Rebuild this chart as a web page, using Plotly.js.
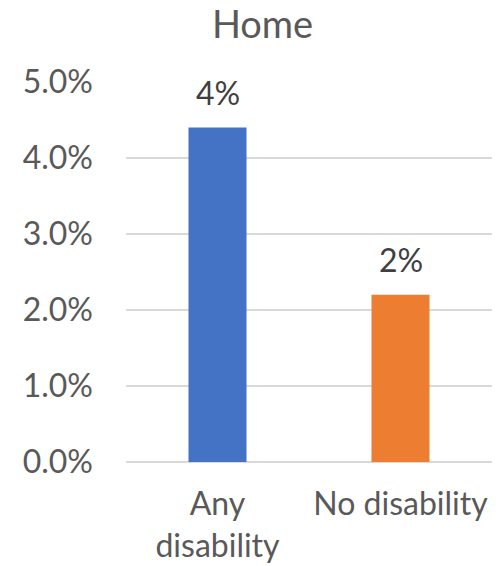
<!DOCTYPE html>
<html>
<head>
<meta charset="utf-8">
<script src="https://cdn.plot.ly/plotly-3.0.1.min.js"></script>
<style>html,body{margin:0;padding:0;background:#fff;}#chart{width:502px;height:566px;}</style>
</head>
<body>
<div id="chart"></div>
<script>
var categories = ["Any<br>disability", "No disability"];
var values = [0.044, 0.022];
var barColors = ["#4472C4", "#ED7D31"];
var tickVals = [0, 0.01, 0.02, 0.03, 0.04, 0.05];

var FONT = "Lato, 'Liberation Sans', sans-serif";

var trace = {
  type: "bar",
  x: categories,
  y: values,
  marker: {color: barColors},
  width: 0.317,
  hoverinfo: "none",
  cliponaxis: false
};

var annotations = values.map(function (v, i) {
  return {
    x: categories[i], y: v, xref: "x", yref: "y",
    text: Math.round(v * 100) + "%",
    showarrow: false, yanchor: "bottom", yshift: 14,
    font: {family: FONT, size: 32, color: "#404040"}
  };
});

var layout = {
  width: 502, height: 566,
  margin: {l: 126, r: 10, t: 82, b: 104},
  paper_bgcolor: "#ffffff", plot_bgcolor: "#ffffff",
  showlegend: false,
  title: {text: "Home", x: 0.523, xanchor: "center", y: 0.957, yanchor: "middle",
          font: {family: FONT, size: 38, color: "#595959"}},
  xaxis: {
    type: "category", range: [-0.5, 1.5],
    showgrid: false, showline: false, zeroline: false, ticks: "",
    ticklabelstandoff: 20,
    tickfont: {family: FONT, size: 32, color: "#595959"}
  },
  yaxis: {
    range: [0, 0.05], tickvals: tickVals, tickformat: ".1%",
    showgrid: true, gridcolor: "#d9d9d9", gridwidth: 1.3,
    zeroline: true, zerolinecolor: "#d9d9d9", zerolinewidth: 1.3,
    showline: false, ticks: "",
    ticklabelstandoff: 32,
    tickfont: {family: FONT, size: 32, color: "#595959"}
  },
  annotations: annotations
};

Plotly.newPlot("chart", [trace], layout, {displayModeBar: false, staticPlot: true});
</script>
</body>
</html>
